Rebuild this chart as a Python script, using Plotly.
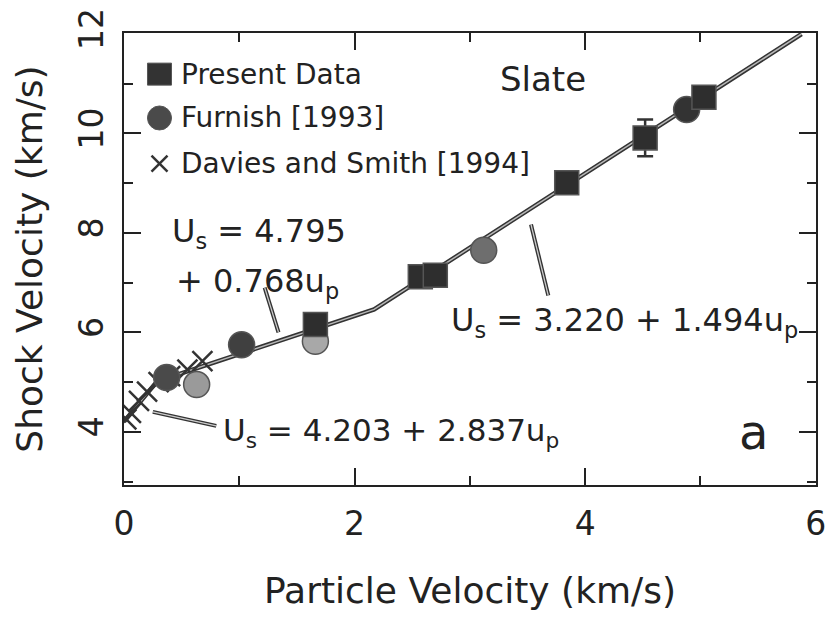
import plotly.graph_objects as go

# ---------------- data ----------------
present_up = [1.66, 2.57, 2.70, 3.84, 4.52, 5.03]
present_us = [6.16, 7.12, 7.15, 9.01, 9.91, 10.73]
present_err = [0, 0, 0, 0, 0.37, 0]

furnish_up = [0.37, 0.63, 1.02, 1.66, 3.12, 4.88]
furnish_us = [5.09, 4.95, 5.75, 5.82, 7.65, 10.48]

davies_up = [0.02, 0.06, 0.13, 0.20, 0.30, 0.40, 0.55, 0.68]
davies_us = [4.25, 4.38, 4.62, 4.81, 5.00, 5.12, 5.25, 5.42]

# piecewise linear fits  Us = c0 + s * up
fit_c0 = [4.203, 4.795, 3.220]
fit_s = [2.837, 0.768, 1.494]
x_ticks = [0, 2, 4, 6]
y_ticks = [4, 6, 8, 10, 12]
legend_labels = ["Present Data", "Furnish [1993]", "Davies and Smith [1994]"]

# ---------------- fit line through breakpoints ----------------
fit_x = [0.0]
fit_y = [fit_c0[0]]
for i in range(len(fit_c0) - 1):
    xb = (fit_c0[i + 1] - fit_c0[i]) / (fit_s[i] - fit_s[i + 1])
    fit_x.append(xb)
    fit_y.append(fit_c0[i] + fit_s[i] * xb)
x_end = (12.0 - fit_c0[-1]) / fit_s[-1]
fit_x.append(x_end)
fit_y.append(fit_c0[-1] + fit_s[-1] * x_end)

INK = "#222222"
FONT = "DejaVu Sans"

fig = go.Figure()

# fit line: dark outline with light core (scanned look)
fig.add_trace(go.Scatter(x=fit_x, y=fit_y, mode="lines",
                         line=dict(color="#333333", width=4.5), showlegend=False, hoverinfo="skip"))
fig.add_trace(go.Scatter(x=fit_x, y=fit_y, mode="lines",
                         line=dict(color="#b8b8b8", width=1.5), showlegend=False, hoverinfo="skip"))

# leader lines for the equations
leaders = [((1.22, 6.90), (1.34, 6.00)),
           ((3.53, 8.17), (3.68, 6.74)),
           ((0.25, 4.40), (0.80, 4.12))]
for (x0, y0), (x1, y1) in leaders:
    fig.add_trace(go.Scatter(x=[x0, x1], y=[y0, y1], mode="lines",
                             line=dict(color="#333333", width=4), showlegend=False, hoverinfo="skip"))
    fig.add_trace(go.Scatter(x=[x0, x1], y=[y0, y1], mode="lines",
                             line=dict(color="#cccccc", width=1.3), showlegend=False, hoverinfo="skip"))

# Davies and Smith
fig.add_trace(go.Scatter(x=davies_up, y=davies_us, mode="markers", name=legend_labels[2],
                         showlegend=False,
                         marker=dict(symbol="x-thin-open", size=20, color="#333333",
                                     line=dict(color="#333333", width=2.5))))

# Furnish circles
furnish_colors = ["#4a4a4a", "#9a9a9a", "#404040", "#a8a8a8", "#6e6e6e", "#333333"]
fig.add_trace(go.Scatter(x=furnish_up, y=furnish_us, mode="markers", name=legend_labels[1],
                         showlegend=False,
                         marker=dict(symbol="circle", size=26, color=furnish_colors,
                                     line=dict(color="#555555", width=1.5))))

# Present data squares
fig.add_trace(go.Scatter(x=present_up, y=present_us, mode="markers", name=legend_labels[0],
                         showlegend=False,
                         error_y=dict(type="data", array=present_err, color="#333333",
                                      thickness=2.5, width=8),
                         marker=dict(symbol="square", size=24, color="#2e2e2e",
                                     line=dict(color="#555555", width=1.5))))

# ---------------- in-frame legend (symbols as pixel-sized shapes) ----------------
leg_y = [0.909, 0.812, 0.711]
leg_sym_x = 0.0513
leg_txt_x = 0.079
shapes = []
common = dict(xref="paper", yref="paper", xsizemode="pixel", ysizemode="pixel", xanchor=leg_sym_x)
shapes.append(dict(type="rect", yanchor=leg_y[0], x0=-12, x1=12, y0=-11, y1=11,
                   fillcolor="#333333", line=dict(color="#555555", width=1), **common))
shapes.append(dict(type="circle", yanchor=leg_y[1], x0=-12, x1=12, y0=-12, y1=12,
                   fillcolor="#4a4a4a", line=dict(color="#555555", width=1), **common))
shapes.append(dict(type="line", yanchor=leg_y[2], x0=-8, x1=8, y0=-8, y1=8,
                   line=dict(color="#333333", width=2.5), **common))
shapes.append(dict(type="line", yanchor=leg_y[2], x0=-8, x1=8, y0=8, y1=-8,
                   line=dict(color="#333333", width=2.5), **common))

ann = []
for txt, yp in zip(legend_labels, leg_y):
    ann.append(dict(xref="paper", yref="paper", x=leg_txt_x, y=yp, xanchor="left", yanchor="middle",
                    text=txt, showarrow=False, font=dict(family=FONT, size=28, color=INK)))

# ---------------- text annotations ----------------
ann += [
    dict(x=3.63, y=11.1, text="Slate", showarrow=False,
         font=dict(family=FONT, size=34, color=INK)),
    dict(x=0.4, y=8.0, xanchor="left", text="U<sub>s</sub> = 4.795", showarrow=False,
         font=dict(family=FONT, size=32, color=INK)),
    dict(x=0.43, y=7.0, xanchor="left", text="+ 0.768u<sub>p</sub>", showarrow=False,
         font=dict(family=FONT, size=32, color=INK)),
    dict(x=2.82, y=6.2, xanchor="left", text="U<sub>s</sub> = 3.220 + 1.494u<sub>p</sub>", showarrow=False,
         font=dict(family=FONT, size=32, color=INK)),
    dict(x=0.84, y=3.98, xanchor="left", text="U<sub>s</sub> = 4.203 + 2.837u<sub>p</sub>", showarrow=False,
         font=dict(family=FONT, size=31, color=INK)),
    dict(x=5.46, y=4.0, text="a", showarrow=False,
         font=dict(family=FONT, size=48, color=INK)),
]

axis_common = dict(showline=True, linecolor=INK, linewidth=2, mirror="allticks",
                   ticks="inside", ticklen=17, tickwidth=2, tickcolor=INK,
                   showgrid=False, zeroline=False, ticklabeloverflow="allow",
                   tickfont=dict(family=FONT, size=33, color=INK))

fig.update_layout(
    width=834, height=620,
    margin=dict(l=124, r=8, t=32, b=135),
    paper_bgcolor="white", plot_bgcolor="white",
    showlegend=False,
    annotations=ann,
    shapes=shapes,
    xaxis=dict(range=[0, 6.002], tickvals=x_ticks,
               minor=dict(dtick=1, tick0=0, ticks="inside", ticklen=9, tickwidth=2, tickcolor=INK),
               title=dict(text="Particle Velocity (km/s)", standoff=36,
                          font=dict(family=FONT, size=36, color=INK)),
               ticklabelstandoff=8,
               **axis_common),
    yaxis=dict(range=[2.93, 12.02], tickvals=y_ticks, tickangle=-90,
               minor=dict(dtick=1, tick0=0, ticks="inside", ticklen=9, tickwidth=2, tickcolor=INK),
               title=dict(text="Shock Velocity (km/s)", standoff=18,
                          font=dict(family=FONT, size=36, color=INK)),
               ticklabelstandoff=6,
               **axis_common),
)

fig.write_html("out.html")
